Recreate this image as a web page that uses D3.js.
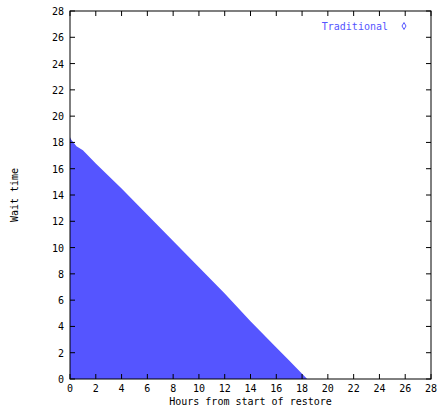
<!DOCTYPE html>
<html><head><meta charset="utf-8">
<script src="https://cdn.jsdelivr.net/npm/d3@7"></script>
<style>body{margin:0;background:#fff}</style>
</head><body>
<script>
// upper edge of the dense point cloud (hours, wait time)
var edgeHours = [0, 0.1, 0.5, 1, 2, 4, 6, 8, 10, 12, 14, 16, 17, 18, 18.4];
var edgeWait  = [18.4, 18.2, 17.7, 17.4, 16.4, 14.5, 12.5, 10.5, 8.5, 6.5, 4.4, 2.4, 1.4, 0.4, 0];
var xTicks = d3.range(0, 29, 2);
var yTicks = d3.range(0, 29, 2);
var blue = "#5555ff";

const w = 448, h = 408;
const padL = 70, padR = 431, padT = 11, padB = 379;

const x = d3.scaleLinear().domain([0, 28]).range([padL, padR]);
const y = d3.scaleLinear().domain([0, 28]).range([padB, padT]);

const svg = d3.select("body").append("svg").attr("width", w).attr("height", h)
    .style("font-family", "DejaVu Sans Mono").style("font-size", "10px");

var pts = edgeHours.map((d, i) => [d, edgeWait[i]]);
var area = d3.area().x(d => x(d[0])).y0(y(0)).y1(d => y(d[1]));
svg.append("path").datum(pts).attr("d", area).attr("fill", blue);

// frame
svg.append("rect").attr("x", padL).attr("y", padT).attr("width", padR - padL)
    .attr("height", padB - padT).attr("fill", "none").attr("stroke", "#000");

// ticks, mirrored, pointing in
xTicks.forEach(t => {
    svg.append("line").attr("x1", x(t)).attr("x2", x(t)).attr("y1", padB).attr("y2", padB - 5).attr("stroke", "#000");
    svg.append("line").attr("x1", x(t)).attr("x2", x(t)).attr("y1", padT).attr("y2", padT + 5).attr("stroke", "#000");
    svg.append("text").attr("x", x(t)).attr("y", padB + 13).attr("text-anchor", "middle").text(t);
});
yTicks.forEach(t => {
    svg.append("line").attr("x1", padL).attr("x2", padL + 5).attr("y1", y(t)).attr("y2", y(t)).attr("stroke", "#000");
    svg.append("line").attr("x1", padR).attr("x2", padR - 5).attr("y1", y(t)).attr("y2", y(t)).attr("stroke", "#000");
    svg.append("text").attr("x", padL - 6).attr("y", y(t) + 4).attr("text-anchor", "end").text(t);
});

svg.append("text").attr("x", (padL + padR) / 2).attr("y", 405).attr("text-anchor", "middle")
    .text("Hours from start of restore");
svg.append("text").attr("transform", "translate(18," + ((padT + padB) / 2) + ") rotate(-90)")
    .attr("text-anchor", "middle").text("Wait time");

// legend
svg.append("text").attr("x", 388).attr("y", 30).attr("text-anchor", "end").attr("fill", blue).text("Traditional");
svg.append("path").attr("d", d3.symbol(d3.symbolDiamond, 14)()).attr("transform", "translate(404,26)")
    .attr("fill", "none").attr("stroke", blue);
</script>
</body></html>
